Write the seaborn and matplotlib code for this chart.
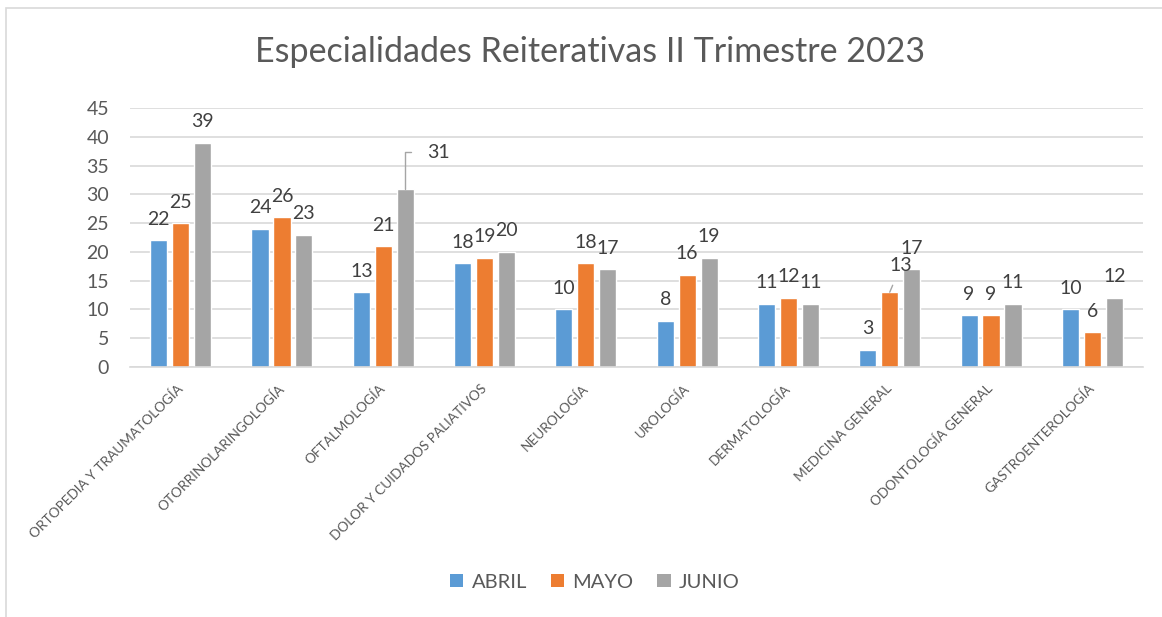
import matplotlib
matplotlib.use("Agg")
import matplotlib.pyplot as plt
from matplotlib.patches import Rectangle, Patch
import pandas as pd
import seaborn as sns

# datos
especialidades = ["ORTOPEDIA Y TRAUMATOLOGÍA", "OTORRINOLARINGOLOGÍA", "OFTALMOLOGÍA",
                  "DOLOR Y CUIDADOS PALIATIVOS", "NEUROLOGÍA", "UROLOGÍA", "DERMATOLOGÍA",
                  "MEDICINA GENERAL", "ODONTOLOGÍA GENERAL", "GASTROENTEROLOGÍA"]
meses = ["ABRIL", "MAYO", "JUNIO"]
abril = [22, 24, 13, 18, 10, 8, 11, 3, 9, 10]
mayo = [25, 26, 21, 19, 18, 16, 12, 13, 9, 6]
junio = [39, 23, 31, 20, 17, 19, 11, 17, 11, 12]
colores = ["#5B9BD5", "#ED7D31", "#A5A5A5"]

df = pd.DataFrame({
    "Especialidad": especialidades * 3,
    "Mes": [m for m in meses for _ in especialidades],
    "Valor": abril + mayo + junio,
})

sns.set_style("white")
plt.rcParams["font.family"] = ["Lato", "DejaVu Sans"]
gris_txt = "#595959"

fig = plt.figure(figsize=(11.62, 6.17), dpi=100)
ax = fig.add_axes([130 / 1162, 1 - 367 / 617, 1013 / 1162, 259 / 617])

sns.barplot(data=df, x="Especialidad", y="Valor", hue="Mes", palette=colores,
            width=0.65, gap=0.22, saturation=1, legend=False, ax=ax)

ax.set_ylim(0, 45)
ax.set_xlim(-0.5, len(especialidades) - 0.5)
ax.set_yticks(range(0, 46, 5))
ax.yaxis.grid(True, color="#D9D9D9", linewidth=1.2)
ax.set_axisbelow(True)
for s in ["top", "right", "left"]:
    ax.spines[s].set_visible(False)
ax.spines["bottom"].set_color("#D9D9D9")
ax.spines["bottom"].set_linewidth(1.2)
ax.set_xlabel("")
ax.set_ylabel("")
ax.tick_params(axis="y", length=0, pad=15, labelsize=14, labelcolor=gris_txt)
ax.tick_params(axis="x", length=0, pad=14)
ax.set_xticks(range(len(especialidades)))
ax.set_xticklabels(especialidades, rotation=45, ha="right", va="center",
                   rotation_mode="anchor", fontsize=9.8, color=gris_txt)

# etiquetas de valores
for i, cont in enumerate(ax.containers):
    for j, bar in enumerate(cont):
        x = bar.get_x() + bar.get_width() / 2
        h = bar.get_height()
        txt = str(int(h))
        if meses[i] == "JUNIO" and especialidades[j] == "OFTALMOLOGÍA":
            ax.annotate(txt, xy=(x, h), xytext=(24, 26), textcoords="offset points",
                        ha="center", va="center", fontsize=14, color="#404040",
                        arrowprops=dict(arrowstyle="-", color="#A5A5A5", lw=1,
                                        connectionstyle="angle,angleA=0,angleB=90,rad=0",
                                        shrinkA=9, shrinkB=0))
        elif meses[i] == "MAYO" and especialidades[j] == "MEDICINA GENERAL":
            ax.annotate(txt, xy=(x, h), xytext=(8, 19), textcoords="offset points",
                        ha="center", va="center", fontsize=14, color="#404040",
                        arrowprops=dict(arrowstyle="-", color="#A5A5A5", lw=1,
                                        shrinkA=6, shrinkB=0))
        else:
            ax.annotate(txt, xy=(x, h), xytext=(0, 9), textcoords="offset points",
                        ha="center", va="bottom", fontsize=14, color="#404040")

fig.text(0.508, 1 - 52 / 617, "Especialidades Reiterativas II Trimestre 2023",
         ha="center", va="center", fontsize=24.5, color=gris_txt)

handles = [Patch(facecolor=c, edgecolor="none") for c in colores]
fig.legend(handles, meses, loc="center", bbox_to_anchor=(0.512, 1 - 582 / 617), ncol=3,
           frameon=False, fontsize=14.5, handlelength=0.65, handleheight=0.65,
           handletextpad=0.4, columnspacing=1.2, labelcolor=gris_txt)

# marco del gráfico
fig.patches.append(Rectangle((6 / 1162, -0.05), 1.2, 1.05 - 8 / 617, transform=fig.transFigure,
                             fill=False, edgecolor="#D9D9D9", linewidth=1.2))

fig.savefig("out.png", dpi=100)
